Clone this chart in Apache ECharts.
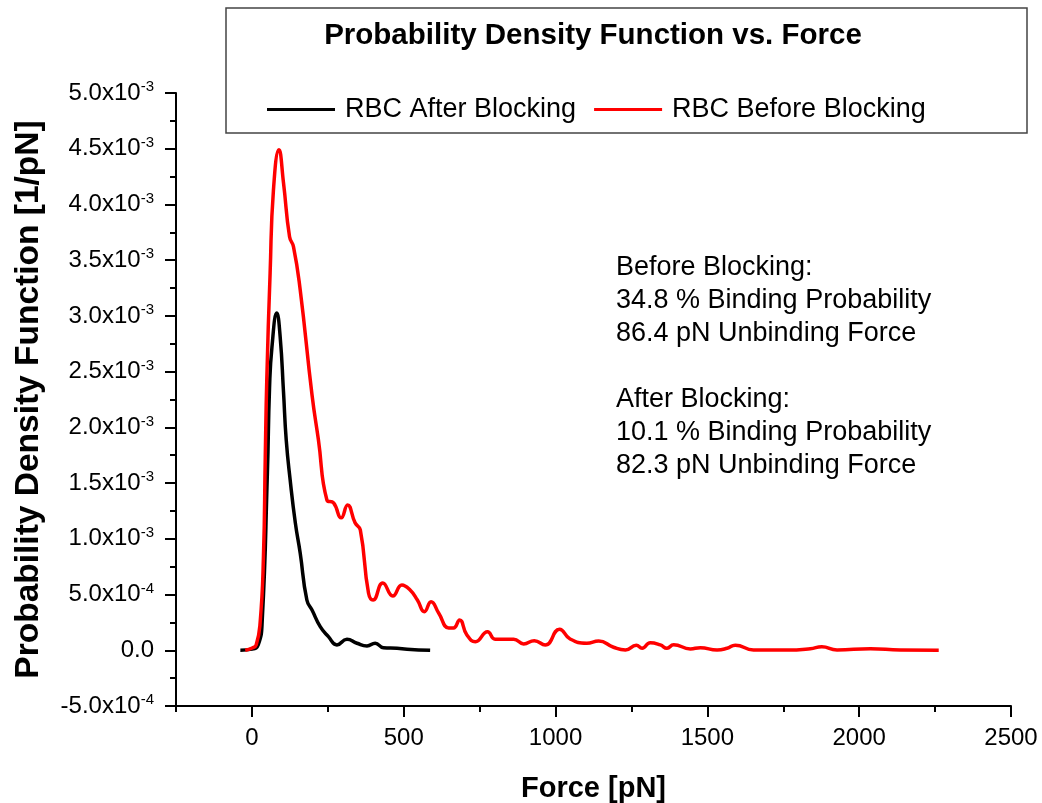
<!DOCTYPE html>
<html>
<head>
<meta charset="utf-8">
<script src="https://cdn.jsdelivr.net/npm/echarts@6/dist/echarts.min.js"></script>
<style>
html,body{margin:0;padding:0;background:#fff;}
#chart{width:1042px;height:803px;}
</style>
</head>
<body>
<div id="chart"></div>
<script>
// ---- Data (force in pN, PDF in units of 1e-3 / pN) ----
const afterForce = [-38, 1, 21, 34, 51, 58, 66, 82, 93, 104, 113, 126, 143, 159, 181, 198, 225, 252, 280, 313, 346, 379, 406, 433, 478, 511, 587];
const afterPdf   = [0, 0.01, 0.05, 0.27, 1.59, 2.35, 2.72, 3.025, 2.815, 2.32, 1.888, 1.528, 1.143, 0.873, 0.451, 0.361, 0.212, 0.122, 0.048, 0.099, 0.063, 0.039, 0.063, 0.023, 0.018, 0.01, 0];

const beforeForce = [-22, 1, 14, 27, 38, 44, 49, 60, 71, 89, 104, 124, 137, 159, 198, 219, 247, 269, 294, 315, 340, 357, 384, 399, 431, 464, 494, 521, 545, 568, 590, 615, 648, 664, 684, 708, 736, 776, 801, 862, 895, 930, 966, 1013, 1048, 1103, 1142, 1191, 1230, 1266, 1285, 1312, 1345, 1367, 1389, 1444, 1477, 1532, 1565, 1592, 1652, 1762, 1839, 1877, 1927, 2037, 2135, 2262];
const beforePdf   = [0, 0.02, 0.048, 0.245, 0.838, 1.735, 2.426, 3.387, 4.132, 4.491, 4.195, 3.71, 3.62, 3.234, 2.29, 1.888, 1.349, 1.322, 1.188, 1.304, 1.143, 1.08, 0.514, 0.451, 0.604, 0.487, 0.586, 0.541, 0.451, 0.346, 0.436, 0.335, 0.2, 0.2, 0.272, 0.137, 0.077, 0.167, 0.099, 0.099, 0.057, 0.086, 0.048, 0.189, 0.101, 0.063, 0.083, 0.027, 0.003, 0.045, 0.018, 0.068, 0.048, 0.018, 0.05, 0.012, 0.023, 0.003, 0.018, 0.045, 0.003, 0.002, 0.014, 0.032, 0.003, 0.014, 0.002, 0];

const seriesNames = ['RBC After Blocking', 'RBC Before Blocking'];
const xMajorTicks = [0, 500, 1000, 1500, 2000, 2500];
const annotationLines = [
  'Before Blocking:',
  '34.8 % Binding Probability',
  '86.4 pN Unbinding Force',
  '',
  'After Blocking:',
  '10.1 % Binding Probability',
  '82.3 pN Unbinding Force'
];
const chartTitle = 'Probability Density Function vs. Force';

// ---- Build ----
const FONT = '"Liberation Sans", Arial, sans-serif';
function pairs(xs, ys) { return xs.map((x, i) => [x, ys[i] * 1e-3]); }
function fmtY(v) {
  if (Math.abs(v) < 1e-12) return '{m|0.0}';
  const e = Math.floor(Math.log10(Math.abs(v)) + 1e-9);
  const m = v / Math.pow(10, e);
  return '{m|' + m.toFixed(1) + 'x10}{e|' + e + '}';
}

const chart = echarts.init(document.getElementById('chart'), null, {renderer: 'canvas'});
const axisColor = '#000';
chart.setOption({
  backgroundColor: '#fff',
  animation: false,
  title: {
    text: chartTitle,
    left: 588,
    textAlign: 'center',
    top: 16,
    textStyle: {fontFamily: FONT, fontSize: 29.5, fontWeight: 'bold', color: '#000'}
  },
  legend: {
    data: seriesNames,
    left: 262,
    top: 91,
    icon: 'rect',
    itemWidth: 68,
    itemHeight: 3,
    itemGap: 18,
    textStyle: {fontFamily: FONT, fontSize: 27, color: '#000', padding: [0, 0, 0, 5]}
  },
  grid: {left: 176, right: 31, top: 93, bottom: 97, containLabel: false, outerBoundsMode: 'none'},
  xAxis: [{
    type: 'value',
    min: -250, max: 2500, interval: 250,
    axisLine: {show: true, onZero: false, lineStyle: {color: axisColor, width: 2}},
    axisTick: {show: true, length: 6, lineStyle: {color: axisColor, width: 2}},
    axisLabel: {show: false},
    splitLine: {show: false},
    name: 'Force [pN]',
    nameLocation: 'middle',
    nameGap: 68,
    nameTextStyle: {fontFamily: FONT, fontSize: 29, fontWeight: 'bold', color: '#000'}
  }, {
    type: 'value',
    min: -250, max: 2500,
    position: 'bottom',
    axisLine: {show: false, onZero: false},
    axisTick: {show: true, length: 11, customValues: xMajorTicks, lineStyle: {color: axisColor, width: 2}},
    axisLabel: {show: true, customValues: xMajorTicks, margin: 20, fontFamily: FONT, fontSize: 24, color: '#000',
      formatter: v => String(v)},
    splitLine: {show: false}
  }],
  yAxis: {
    type: 'value',
    min: -0.0005, max: 0.005, interval: 0.0005,
    axisLine: {show: true, onZero: false, lineStyle: {color: axisColor, width: 2}},
    axisTick: {show: true, length: 11, lineStyle: {color: axisColor, width: 2}},
    minorTick: {show: true, splitNumber: 2, length: 6, lineStyle: {color: axisColor, width: 2}},
    splitLine: {show: false},
    minorSplitLine: {show: false},
    axisLabel: {
      margin: 22,
      formatter: fmtY,
      rich: {
        m: {fontFamily: FONT, fontSize: 24, color: '#000'},
        e: {fontFamily: FONT, fontSize: 15, color: '#000', verticalAlign: 'top', padding: [0, 0, 12, 0]}
      }
    },
    name: 'Probability Density Function [1/pN]',
    nameLocation: 'middle',
    nameRotate: 90,
    nameGap: 130,
    nameTextStyle: {fontFamily: FONT, fontSize: 33.5, fontWeight: 'bold', color: '#000'}
  },
  graphic: [{
    type: 'rect',
    shape: {x: 226, y: 8, width: 801, height: 125},
    style: {fill: 'none', stroke: '#444', lineWidth: 1.5},
    z: 0
  }, {
    type: 'text',
    x: 616, y: 251,
    style: {
      text: annotationLines.join('\n'),
      font: '27px ' + FONT,
      lineHeight: 33,
      fill: '#000',
      verticalAlign: 'top'
    }
  }],
  series: [{
    name: seriesNames[0],
    type: 'line',
    data: pairs(afterForce, afterPdf),
    smooth: 0.5,
    showSymbol: false,
    lineStyle: {color: '#000', width: 3.5},
    itemStyle: {color: '#000'}
  }, {
    name: seriesNames[1],
    type: 'line',
    data: pairs(beforeForce, beforePdf),
    smooth: 0.5,
    showSymbol: false,
    lineStyle: {color: '#ff0000', width: 3.5},
    itemStyle: {color: '#ff0000'}
  }]
});
</script>
</body>
</html>
